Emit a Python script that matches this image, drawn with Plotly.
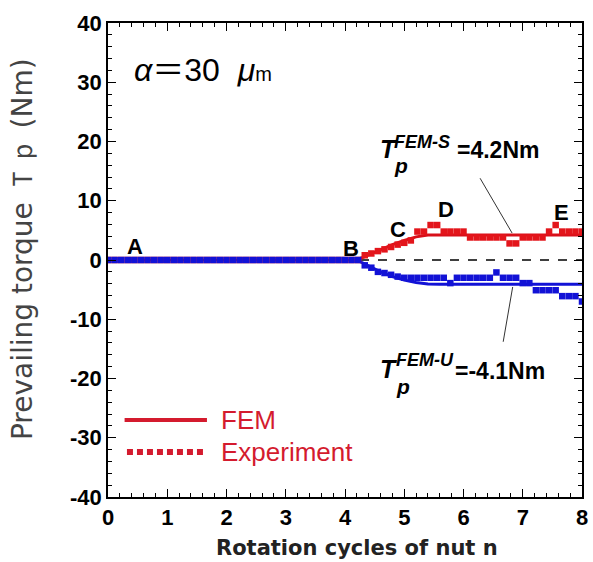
import plotly.graph_objects as go

# Rotation cycles (experiment sampled every 1/9 cycle)
cycles_exp = [k / 9 for k in range(73)]

# Measured prevailing torque, tightening side (Nm)
torque_exp_s = [0.0] * 39 + [
    0.8, 1.1, 1.5, 1.8, 2.2, 2.6, 2.9, 3.3, 4.8, 4.8,
    5.9, 5.9, 4.8, 4.8, 4.8, 4.8, 3.8, 3.8, 3.8, 3.8,
    3.8, 3.8, 2.8, 2.8, 3.8, 3.8, 3.8, 3.8, 4.8, 5.9,
    4.8, 4.8, 4.8, 4.8,
]
# Measured prevailing torque, loosening side (Nm)
torque_exp_u = [0.0] * 39 + [
    -0.9, -1.3, -2.0, -2.2, -2.5, -2.8, -3.0, -3.0, -3.0, -3.0,
    -3.0, -3.0, -3.0, -3.9, -3.0, -3.0, -3.0, -3.0, -3.0, -3.0,
    -2.1, -3.0, -3.0, -3.0, -3.9, -3.9, -5.1, -5.1, -5.1, -5.1,
    -6.1, -6.1, -6.1, -7.0,
]

# FEM results
cycles_fem = [4.2, 4.4, 4.6, 4.8, 5.0, 5.2, 5.4, 5.6, 8.0]
torque_fem_s = [0.0, 0.9, 1.8, 2.6, 3.3, 3.9, 4.2, 4.2, 4.2]
torque_fem_u = [0.0, -1.0, -2.0, -2.8, -3.4, -3.8, -4.05, -4.1, -4.1]

x_ticks = [0, 1, 2, 3, 4, 5, 6, 7, 8]
y_ticks = [-40, -30, -20, -10, 0, 10, 20, 30, 40]
y_tick_text = [str(v) for v in y_ticks]

RED = "#e3151b"
BLUE = "#1212d6"
LEG = "#d41b2e"

W, H = 593, 562
ML, MR, MT, MB = 108, 5, 23, 65

fig = go.Figure()
fig.add_trace(go.Scatter(x=cycles_fem, y=torque_fem_s, mode="lines",
                         line=dict(color="#d8101a", width=3), showlegend=False))
fig.add_trace(go.Scatter(x=cycles_fem, y=torque_fem_u, mode="lines",
                         line=dict(color=BLUE, width=3), showlegend=False))
fig.add_trace(go.Scatter(x=cycles_exp, y=torque_exp_s, mode="markers",
                         marker=dict(symbol="square", size=6.5, color=RED, line=dict(width=0)),
                         showlegend=False))
fig.add_trace(go.Scatter(x=cycles_exp, y=torque_exp_u, mode="markers",
                         marker=dict(symbol="square", size=6.5, color=BLUE, line=dict(width=0)),
                         showlegend=False))

shapes = [
    dict(type="line", xref="x", yref="y", x0=0, x1=8, y0=0, y1=0, layer="below",
         line=dict(color="black", width=1.5, dash="dash")),
    # leader lines
    dict(type="line", xref="x", yref="y", x0=6.28, y0=13.8, x1=6.82, y1=4.55,
         line=dict(color="#333333", width=1)),
    dict(type="line", xref="x", yref="y", x0=6.83, y0=-4.55, x1=6.67, y1=-13.8,
         line=dict(color="#333333", width=1)),
    # legend samples
    dict(type="line", xref="x", yref="y", x0=0.28, x1=1.67, y0=-27.0, y1=-27.0,
         line=dict(color=LEG, width=4)),
    dict(type="line", xref="x", yref="y", x0=0.32, x1=1.64, y0=-32.4, y1=-32.4,
         line=dict(color=LEG, width=6, dash="6px,4px")),
]

ann = []
def text(x, y, s, size, color="black", xanchor="center", family="Liberation Sans"):
    ann.append(dict(x=x, y=y, xref="x", yref="y", text=s, showarrow=False,
                    xanchor=xanchor, yanchor="middle",
                    font=dict(size=size, color=color, family=family)))

def page_text(px, py, s, font, angle=0):
    # position given in page pixels, converted to paper fractions
    ann.append(dict(x=(px - ML) / (W - ML - MR), y=(H - MB - py) / (H - MT - MB),
                    xref="paper", yref="paper", text=s, showarrow=False,
                    xanchor="center", yanchor="middle", textangle=angle, font=font))

for lbl, x, y in [("A", 0.45, 2.2), ("B", 4.1, 2.0), ("C", 4.9, 5.1),
                  ("D", 5.7, 8.6), ("E", 7.65, 8.1)]:
    text(x, y, "<b>%s</b>" % lbl, 22)

# torque labels
text(4.55, 18.7, "<b><i>T</i></b>", 25, xanchor="left")
text(4.80, 19.9, "<b><i>FEM-S</i></b>", 18, xanchor="left")
text(4.80, 16.0, "<b><i>p</i></b>", 21, xanchor="left")
text(5.85, 18.5, "<b>=4.2Nm</b>", 23, xanchor="left")
text(4.55, -18.4, "<b><i>T</i></b>", 25, xanchor="left")
text(4.83, -16.9, "<b><i>FEM-U</i></b>", 18, xanchor="left")
text(4.83, -21.4, "<b><i>p</i></b>", 21, xanchor="left")
text(5.83, -18.7, "<b>=-4.1Nm</b>", 23, xanchor="left")

# legend text
text(1.88, -27.0, "FEM", 26, color=LEG, xanchor="left")
text(1.88, -32.4, "Experiment", 26, color=LEG, xanchor="left")

# gap parameter
text(0.4, 32.0, "<i>α</i>＝30  <i>μ</i><span style='font-size:20px'>m</span>", 32,
     xanchor="left", family="Liberation Sans, Noto Sans CJK JP")

# axis titles
page_text(360, 548, "Rotation cycles of nut n",
          dict(family="DejaVu Sans", size=21, color="#222222", weight="bold"))
page_text(22, 249, "Prevailing torque Ｔｐ (Nm)",
          dict(family="DejaVu Sans", size=28, color="#444444"), angle=-90)

axis_common = dict(showline=True, linecolor="black", linewidth=1.5, mirror="allticks",
                   ticks="inside", ticklen=8, tickwidth=1.2, tickcolor="black",
                   showgrid=False, zeroline=False,
                   tickfont=dict(family="Liberation Sans", size=22, color="black", weight="bold"))

fig.update_layout(
    width=W, height=H,
    margin=dict(l=ML, r=MR, t=MT, b=MB),
    paper_bgcolor="white", plot_bgcolor="white",
    shapes=shapes, annotations=ann,
    xaxis=dict(range=[0, 8], tickvals=x_ticks,
               minor=dict(dtick=0.2, ticks="inside", ticklen=4, tickcolor="black"),
               **axis_common),
    yaxis=dict(range=[-40, 40], tickvals=y_ticks, ticktext=y_tick_text,
               minor=dict(dtick=2, ticks="inside", ticklen=4, tickcolor="black"),
               **axis_common),
)

fig.write_html("out.html")
